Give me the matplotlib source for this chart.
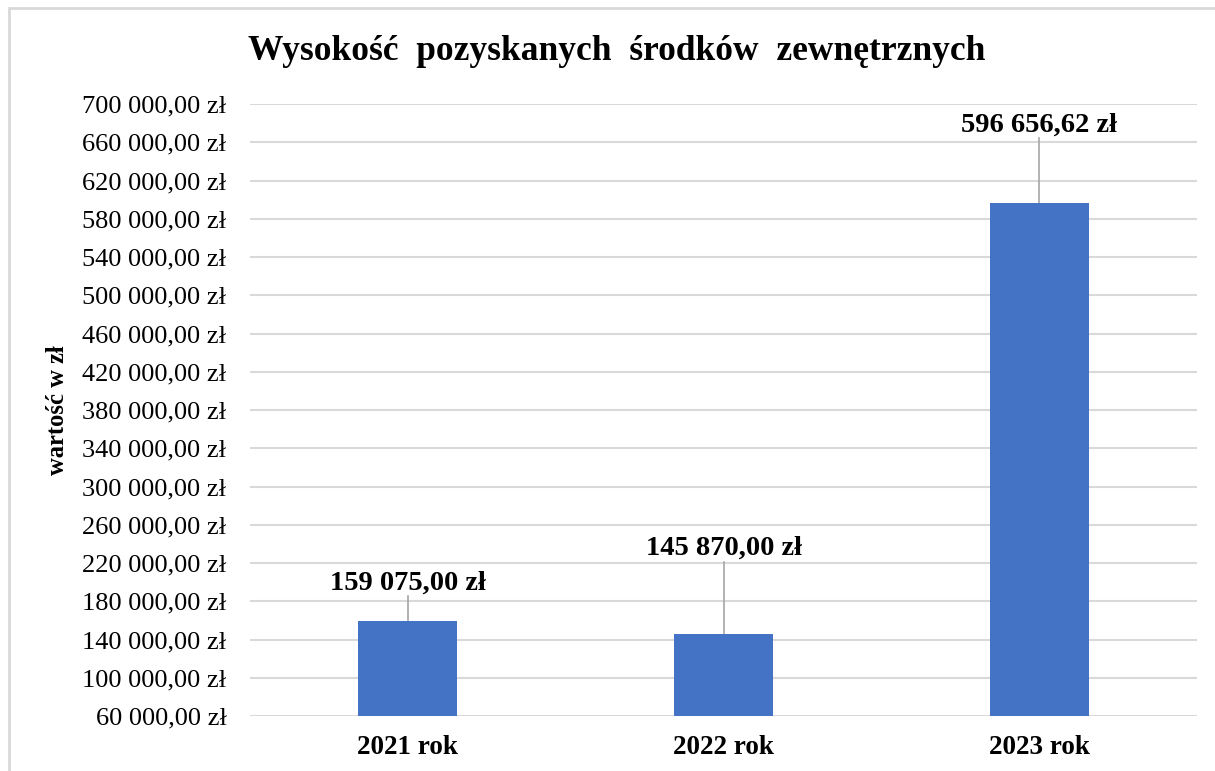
import matplotlib.pyplot as plt
from matplotlib.patches import Rectangle

years = ["2021 rok", "2022 rok", "2023 rok"]
values = [159075.00, 145870.00, 596656.62]
value_labels = ["159 075,00 zł", "145 870,00 zł", "596 656,62 zł"]
label_heights = [199000, 235000, 678000]

ticks = list(range(60000, 700001, 40000))


def fmt(v):
    return "{:,}".format(v).replace(",", " ") + ",00 zł"


plt.rcParams['font.family'] = ['Liberation Serif', 'DejaVu Serif']

fig = plt.figure(figsize=(12.15, 7.71), dpi=100)
fig.patches.append(Rectangle((9 / 1215, -0.05), 1.1, 1 - 8 / 771 + 0.05,
                             transform=fig.transFigure, fill=False,
                             edgecolor="#d9d9d9", linewidth=2))

ax = fig.add_axes([250 / 1215, 1 - 716 / 771, 947 / 1215, (716 - 104) / 771])
x = list(range(len(years)))
ax.bar(x, values, width=0.314, color="#4472c4", zorder=3)

ax.set_ylim(60000, 700000)
ax.set_xlim(-0.5, 2.5)
ax.set_yticks(ticks)
ax.set_yticklabels([fmt(t) for t in ticks], fontsize=19)
ax.set_xticks(x)
ax.set_xticklabels(years, fontsize=19.5, fontweight="bold")
ax.tick_params(axis="both", length=0)
ax.tick_params(axis="y", pad=17)
ax.tick_params(axis="x", pad=14)
ax.grid(axis="y", color="#d9d9d9", linewidth=1.5, zorder=0)
for s in ax.spines.values():
    s.set_visible(False)

for i in x:
    ax.plot([i, i], [values[i], label_heights[i] - 14000], color="#a6a6a6",
            linewidth=1.2, zorder=2)
    ax.text(i, label_heights[i], value_labels[i], ha="center", va="center",
            fontsize=20.5, fontweight="bold")

ax.set_ylabel("wartość w zł", fontsize=17.7, fontweight="bold")
ax.yaxis.set_label_coords(-181 / 947, 0.5)

fig.text(617 / 1215, 1 - 52 / 771, "Wysokość  pozyskanych  środków  zewnętrznych",
         ha="center", va="center", fontsize=25.5, fontweight="bold")

fig.savefig("out.png", dpi=100)
